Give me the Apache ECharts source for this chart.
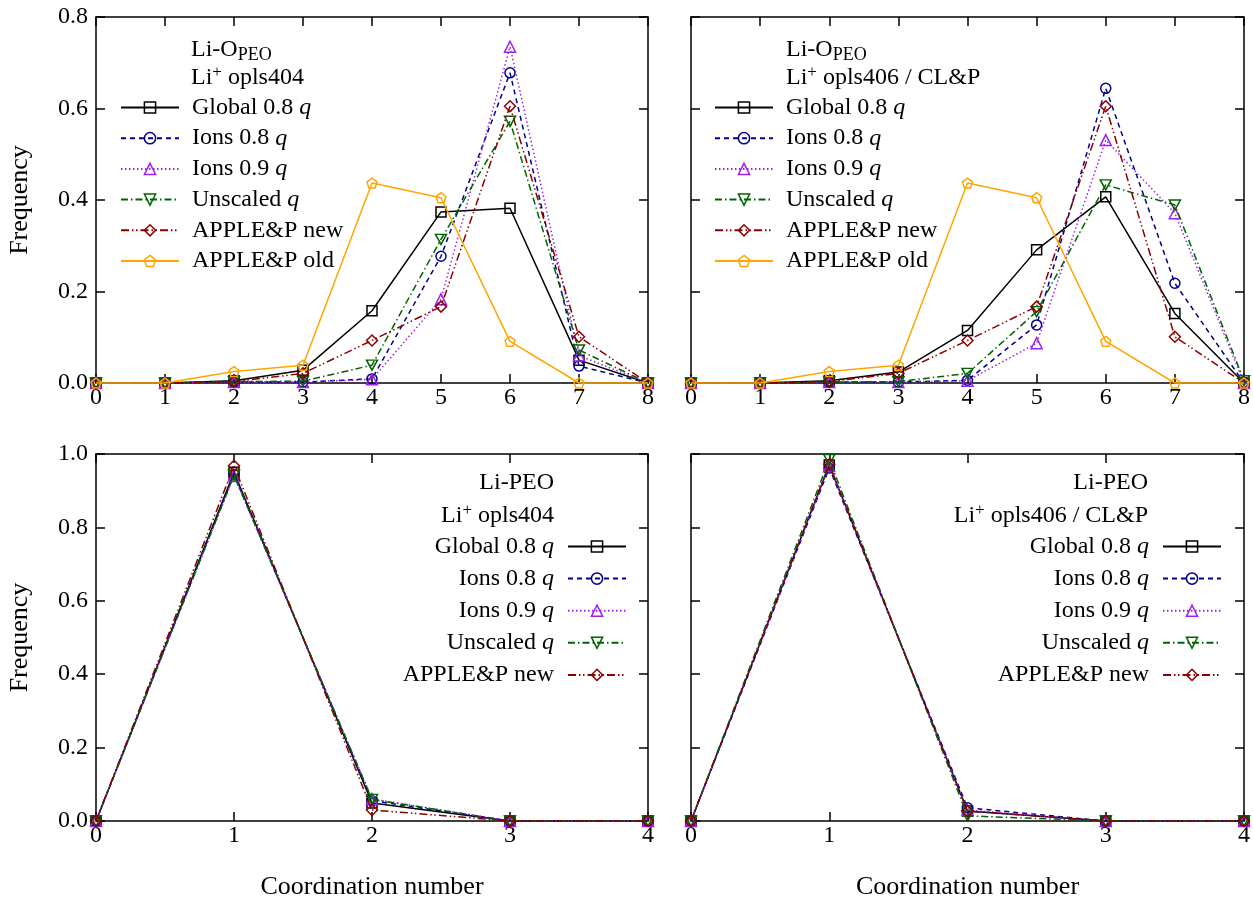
<!DOCTYPE html>
<html>
<head>
<meta charset="utf-8">
<script src="https://cdn.jsdelivr.net/npm/echarts@6/dist/echarts.min.js"></script>
<style>html,body{margin:0;padding:0;background:#fff}#c{width:1253px;height:898px}</style>
</head>
<body>
<div id="c"></div>
<script>
// ---------- DATA ----------
const xTop = [0, 1, 2, 3, 4, 5, 6, 7, 8];
const xBottom = [0, 1, 2, 3, 4];
const yTicksTop = [0, 0.2, 0.4, 0.6, 0.8];
const yTicksBottom = [0, 0.2, 0.4, 0.6, 0.8, 1.0];
const seriesNames = ['Global 0.8 q', 'Ions 0.8 q', 'Ions 0.9 q', 'Unscaled q', 'APPLE&P new', 'APPLE&P old'];

// Li-O_PEO, Li+ opls404
const liO_404_global   = [0, 0, 0.005, 0.028, 0.158, 0.374, 0.382, 0.050, 0];
const liO_404_ions08   = [0, 0, 0.002, 0.002, 0.009, 0.277, 0.678, 0.037, 0];
const liO_404_ions09   = [0, 0, 0.002, 0.002, 0.008, 0.183, 0.735, 0.060, 0];
const liO_404_unscaled = [0, 0, 0.003, 0.004, 0.039, 0.314, 0.572, 0.072, 0];
const liO_404_newP     = [0, 0, 0.003, 0.021, 0.093, 0.167, 0.605, 0.101, 0];
const liO_404_oldP     = [0, 0, 0.025, 0.039, 0.437, 0.405, 0.091, 0.000, 0];

// Li-O_PEO, Li+ opls406 / CL&P
const liO_406_global   = [0, 0, 0.005, 0.024, 0.115, 0.291, 0.407, 0.152, 0];
const liO_406_ions08   = [0, 0, 0.002, 0.002, 0.006, 0.127, 0.644, 0.218, 0];
const liO_406_ions09   = [0, 0, 0.002, 0.002, 0.005, 0.087, 0.531, 0.371, 0];
const liO_406_unscaled = [0, 0, 0.002, 0.003, 0.021, 0.156, 0.433, 0.389, 0.005];
const liO_406_newP     = [0, 0, 0.003, 0.021, 0.093, 0.167, 0.605, 0.101, 0];
const liO_406_oldP     = [0, 0, 0.025, 0.039, 0.437, 0.405, 0.091, 0.000, 0];

// Li-PEO, Li+ opls404
const liPEO_404_global   = [0, 0.950, 0.049, 0, 0];
const liPEO_404_ions08   = [0, 0.945, 0.055, 0, 0];
const liPEO_404_ions09   = [0, 0.940, 0.060, 0, 0];
const liPEO_404_unscaled = [0, 0.942, 0.059, 0, 0];
const liPEO_404_newP     = [0, 0.968, 0.030, 0, 0];

// Li-PEO, Li+ opls406 / CL&P
const liPEO_406_global   = [0, 0.970, 0.027, 0, 0];
const liPEO_406_ions08   = [0, 0.962, 0.036, 0, 0];
const liPEO_406_ions09   = [0, 0.967, 0.030, 0, 0];
const liPEO_406_unscaled = [0, 0.985, 0.014, 0, 0];
const liPEO_406_newP     = [0, 0.972, 0.027, 0, 0];

// ---------- STYLE ----------
const FONT = 'Liberation Serif';
const FS = 24;
const FS_NAME = 26;
const STY = {
  'Global 0.8 q': {c: '#000000', sym: 'rect', size: 10, dash: 'solid'},
  'Ions 0.8 q':   {c: '#00008b', sym: 'circle', size: 10, dash: [5, 4]},
  'Ions 0.9 q':   {c: '#a020f0', sym: 'triangle', size: 11, dash: [1.5, 2.5]},
  'Unscaled q':   {c: '#006400', sym: 'path://M0,0L10,0L5,8.66Z', size: [11, 10], dash: [7, 3, 1.5, 3]},
  'APPLE&P new':  {c: '#8b0000', sym: 'diamond', size: 11, dash: [8, 3, 1.5, 2.5, 1.5, 3]},
  'APPLE&P old':  {c: '#ffa500', sym: 'path://M5,0L9.76,3.45L7.94,9.05L2.06,9.05L0.24,3.45Z', size: 10, dash: 'solid'}
};

const grids = [
  {left: 96, top: 17, width: 552, height: 366, outerBoundsMode: 'none', containLabel: false},
  {left: 691, top: 17, width: 553, height: 366, outerBoundsMode: 'none', containLabel: false},
  {left: 96, top: 454, width: 552, height: 367, outerBoundsMode: 'none', containLabel: false},
  {left: 691, top: 454, width: 553, height: 367, outerBoundsMode: 'none', containLabel: false}
];

const xAxes = [], yAxes = [];
grids.forEach((g, i) => {
  const xs = i < 2 ? xTop : xBottom;
  const yt = i < 2 ? yTicksTop : yTicksBottom;
  const axLine = {show: true, onZero: false, lineStyle: {color: '#000', width: 1.5}};
  const tick = {show: true, inside: true, length: 9, lineStyle: {color: '#000', width: 1.5}};
  const lab = {fontFamily: FONT, fontSize: FS, color: '#000'};
  xAxes.push({
    gridIndex: i, type: 'value', position: 'bottom', min: xs[0], max: xs[xs.length - 1], interval: xs[1] - xs[0],
    axisLine: axLine, axisTick: tick, splitLine: {show: false},
    axisLabel: Object.assign({margin: 3, formatter: v => String(v)}, lab),
    name: i >= 2 ? 'Coordination number' : '', nameLocation: 'middle', nameGap: 53,
    nameTextStyle: {fontFamily: FONT, fontSize: FS_NAME, color: '#000'}
  });
  xAxes.push({
    gridIndex: i, type: 'value', position: 'top', min: xs[0], max: xs[xs.length - 1], interval: xs[1] - xs[0],
    axisLine: axLine, axisTick: tick, splitLine: {show: false}, axisLabel: {show: false}
  });
  const leftCol = (i % 2 === 0);
  yAxes.push({
    gridIndex: i, type: 'value', position: 'left', min: yt[0], max: yt[yt.length - 1], interval: yt[1] - yt[0],
    axisLine: axLine, axisTick: tick, splitLine: {show: false},
    axisLabel: Object.assign({show: leftCol, margin: 8, formatter: v => v.toFixed(1)}, lab),
    name: leftCol ? 'Frequency' : '', nameLocation: 'middle', nameGap: 63, nameRotate: 90,
    nameTextStyle: {fontFamily: FONT, fontSize: FS_NAME, color: '#000'}
  });
  yAxes.push({
    gridIndex: i, type: 'value', position: 'right', min: yt[0], max: yt[yt.length - 1], interval: yt[1] - yt[0],
    axisLine: axLine, axisTick: tick, splitLine: {show: false}, axisLabel: {show: false}
  });
});

const panels = [
  {xs: xTop, vals: [liO_404_global, liO_404_ions08, liO_404_ions09, liO_404_unscaled, liO_404_newP, liO_404_oldP]},
  {xs: xTop, vals: [liO_406_global, liO_406_ions08, liO_406_ions09, liO_406_unscaled, liO_406_newP, liO_406_oldP]},
  {xs: xBottom, vals: [liPEO_404_global, liPEO_404_ions08, liPEO_404_ions09, liPEO_404_unscaled, liPEO_404_newP]},
  {xs: xBottom, vals: [liPEO_406_global, liPEO_406_ions08, liPEO_406_ions09, liPEO_406_unscaled, liPEO_406_newP]}
];

const series = [];
panels.forEach((p, gi) => {
  p.vals.forEach((arr, k) => {
    const name = seriesNames[k];
    const s = STY[name];
    series.push({
      type: 'line', name: name, xAxisIndex: gi * 2, yAxisIndex: gi * 2,
      data: p.xs.map((x, j) => [x, arr[j]]),
      color: s.c, symbol: s.sym, symbolSize: s.size, showSymbol: true, clip: false,
      lineStyle: {color: s.c, width: 1.5, type: s.dash},
      itemStyle: {color: 'rgba(255,255,255,0)', borderColor: s.c, borderWidth: 1.5},
      emphasis: {disabled: true}, z: 2 + k
    });
  });
});

const tok = (extra) => Object.assign({fontFamily: FONT, fontSize: FS, fontWeight: 'normal', color: '#000', lineHeight: 26}, extra || {});
const legendFmt = name => name.endsWith(' q') ? '{t|' + name.slice(0, -1) + '}{i|q}' : '{t|' + name + '}';
function mkLegend(names, pos, right, gap) {
  return Object.assign({
    orient: 'vertical', padding: 0, itemWidth: 58, itemHeight: 14, itemGap: gap, selectedMode: false,
    data: names, formatter: legendFmt, align: right ? 'right' : 'left',
    itemStyle: {borderWidth: 1.5},
    textStyle: Object.assign(
      {fontFamily: FONT, fontSize: FS, color: '#000', lineHeight: 26,
       rich: {t: tok(), i: tok({fontStyle: 'italic'})}},
      right ? {width: 200, align: 'right', padding: [0, 9, 0, 0]} : {padding: [0, 0, 0, 8]})
  }, pos);
}

const titleRich = {
  n: tok({lineHeight: 28}),
  sub: {fontFamily: FONT, fontSize: 18, fontWeight: 'normal', color: '#000', lineHeight: 18, verticalAlign: 'bottom', padding: [5, 0, 0, 0]},
  sup: {fontFamily: FONT, fontSize: 17, fontWeight: 'normal', color: '#000', lineHeight: 17, verticalAlign: 'top'}
};
function mkTitle(text, pos) {
  return Object.assign({text: text, padding: 0,
    textStyle: {fontFamily: FONT, fontWeight: 'normal', fontSize: FS, color: '#000', rich: titleRich}}, pos);
}

const option = {
  animation: false,
  backgroundColor: '#fff',
  grid: grids,
  xAxis: xAxes,
  yAxis: yAxes,
  series: series,
  legend: [
    mkLegend(seriesNames, {left: 120, top: 94.5}, false, 4.7),
    mkLegend(seriesNames, {left: 714, top: 94.5}, false, 4.7),
    mkLegend(seriesNames.slice(0, 5), {right: 1253 - 627, top: 533.5}, true, 6.1),
    mkLegend(seriesNames.slice(0, 5), {right: 1253 - 1222, top: 533.5}, true, 6.1)
  ],
  title: [
    mkTitle('{n|Li-O}{sub|PEO}', {left: 191, top: 36}),
    mkTitle('{n|Li}{sup|+}{n| opls404}', {left: 191, top: 64}),
    mkTitle('{n|Li-O}{sub|PEO}', {left: 786, top: 36}),
    mkTitle('{n|Li}{sup|+}{n| opls406 / CL&P}', {left: 786, top: 64}),
    mkTitle('{n|Li-PEO}', {right: 1253 - 554, top: 469}),
    mkTitle('{n|Li}{sup|+}{n| opls404}', {right: 1253 - 554, top: 502}),
    mkTitle('{n|Li-PEO}', {right: 1253 - 1148, top: 469}),
    mkTitle('{n|Li}{sup|+}{n| opls406 / CL&P}', {right: 1253 - 1148, top: 502})
  ]
};

const chart = echarts.init(document.getElementById('c'), null, {renderer: 'canvas'});
chart.setOption(option);
</script>
</body>
</html>
